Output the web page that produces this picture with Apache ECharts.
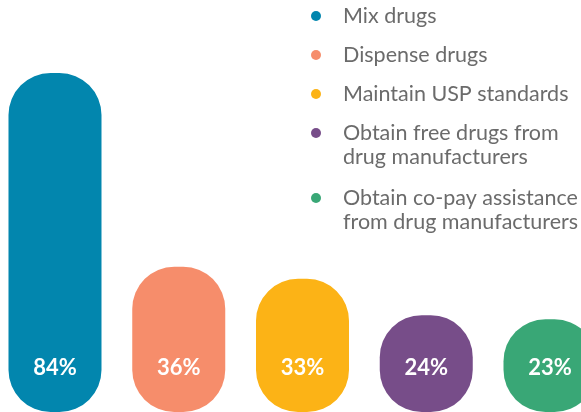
<!DOCTYPE html>
<html><head><meta charset="utf-8">
<script src="https://cdn.jsdelivr.net/npm/echarts@6/dist/echarts.min.js"></script>
<style>html,body{margin:0;padding:0;background:#fff}#c{width:581px;height:412px}</style>
</head><body><div id="c"></div>
<script>
var categories = ['Mix drugs', 'Dispense drugs', 'Maintain USP standards', 'Obtain free drugs from\ndrug manufacturers', 'Obtain co-pay assistance\nfrom drug manufacturers'];
var values = [84, 36, 33, 24, 23];
var colors = ['#0286AE', '#F68D6B', '#FCB316', '#774D89', '#39A776'];

var chart = echarts.init(document.getElementById('c'));
var series = categories.map(function (name, i) {
  return {
    type: 'bar', name: name, data: [[i, values[i]]], barWidth: 93, barGap: '-100%',
    itemStyle: { color: colors[i], borderRadius: 42 },
    label: { show: true, position: 'insideBottom', distance: 33,
      formatter: function (p) { return p.value[1] + '%'; },
      color: '#fff', fontFamily: 'Lato', fontWeight: 'bold', fontSize: 22 },
    silent: true
  };
});
var legendBase = {
  orient: 'vertical', left: 311, padding: 0, icon: 'circle', itemWidth: 10, itemHeight: 10,
  selectedMode: false,
  textStyle: { color: '#6b6b6b', fontFamily: 'Lato', fontSize: 21.5, lineHeight: 24, padding: [0, 0, 0, 17] }
};
chart.setOption({
  animation: false,
  grid: { left: 0, right: 0, top: 8.5, bottom: 0 },
  xAxis: { type: 'value', min: -0.4444, max: 4.2505, show: false },
  yAxis: { type: 'value', min: 0, max: 100, show: false },
  legend: [
    Object.assign({}, legendBase, { top: 4, itemGap: 15, data: categories.slice(0, 3) }),
    Object.assign({}, legendBase, { top: 97, data: [categories[3]], formatter: function (n) { return '\n' + n; } }),
    Object.assign({}, legendBase, { top: 162, data: [categories[4]], formatter: function (n) { return '\n' + n; } })
  ],
  series: series
});
</script></body></html>
